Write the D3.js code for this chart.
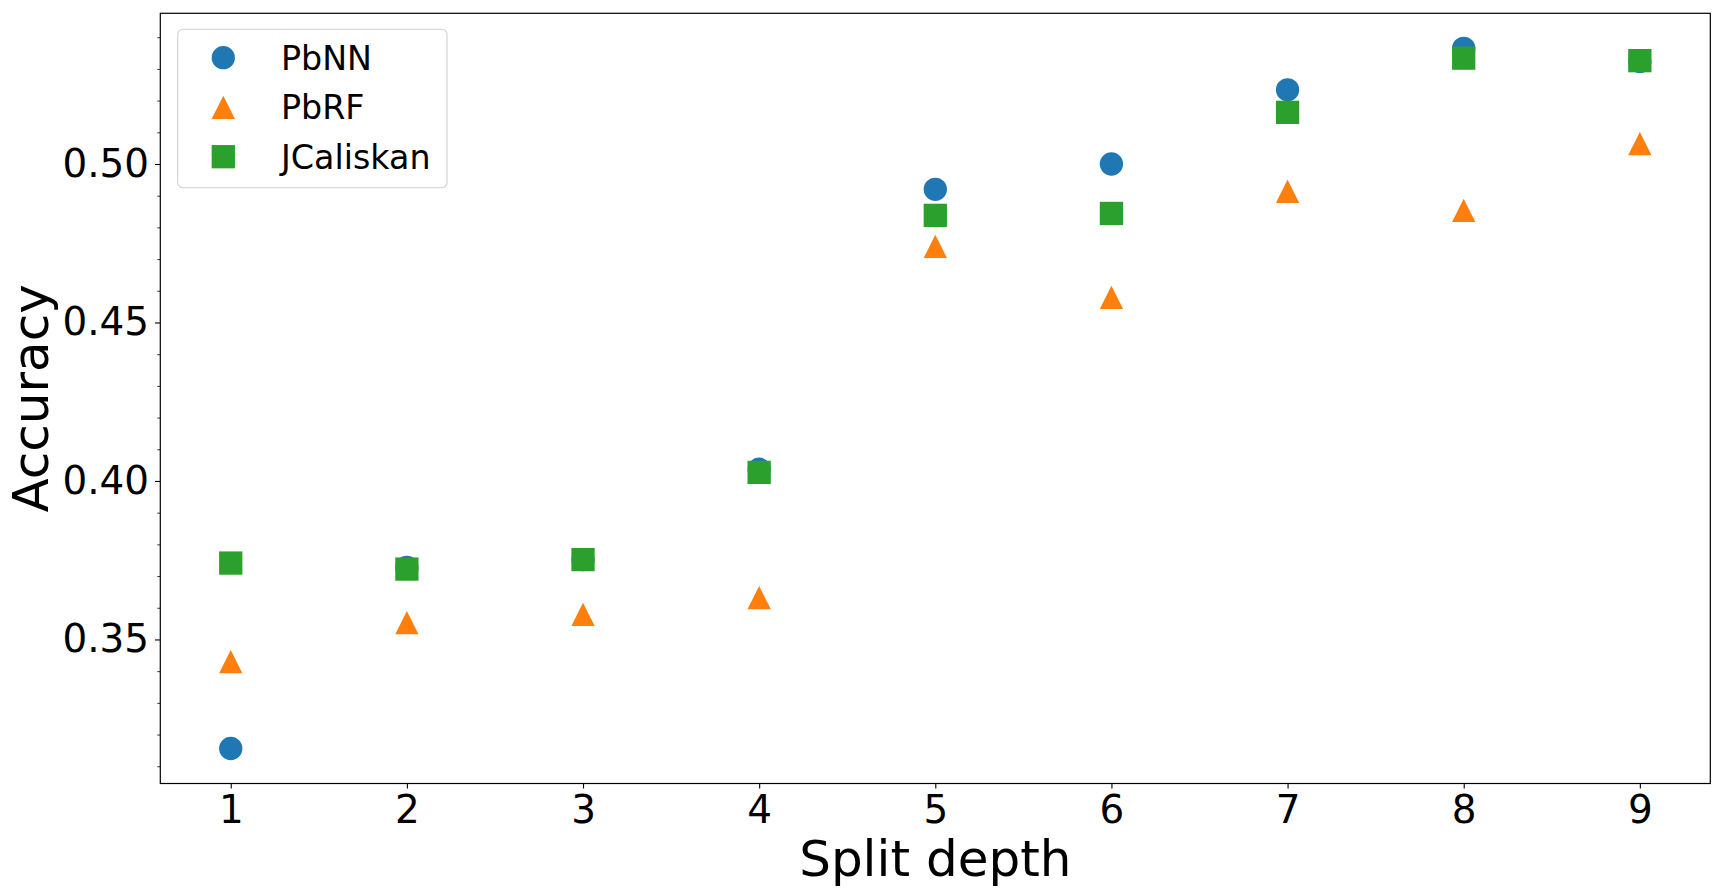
<!DOCTYPE html>
<html>
<head>
<meta charset="utf-8">
<script src="https://cdn.jsdelivr.net/npm/d3@7"></script>
<style>
  html, body { margin: 0; padding: 0; background: #fff; }
  svg { display: block; font-family: "DejaVu Sans", sans-serif; }
</style>
</head>
<body>
<svg id="chart" width="1723" height="894"></svg>
<script>
// ---- data ----
const depths = [1, 2, 3, 4, 5, 6, 7, 8, 9];
const pbnn      = [0.3156, 0.3727, 0.3752, 0.4037, 0.4920, 0.5000, 0.5234, 0.5365, 0.5323];
const pbrf      = [0.3430, 0.3553, 0.3579, 0.3632, 0.4740, 0.4579, 0.4914, 0.4854, 0.5064];
const jcaliskan = [0.3741, 0.3722, 0.3752, 0.4027, 0.4838, 0.4844, 0.5163, 0.5334, 0.5326];
const seriesNames = ["PbNN", "PbRF", "JCaliskan"];
const yMajorTicks = [0.35, 0.40, 0.45, 0.50];
const xLabel = "Split depth";
const yLabel = "Accuracy";

// ---- styling ----
const colors = ["#1f77b4", "#ff7f0e", "#2ca02c"];
const shapes = ["circle", "triangle", "square"];
const markerSize = 23.3;
const tickFont = 38.9;

const svg = d3.select("#chart");
const W = 1723, H = 894;
svg.append("rect").attr("width", W).attr("height", H).attr("fill", "#fff");

const plot = { left: 160.3, right: 1710.3, top: 13.3, bottom: 783.5 };

const allY = pbnn.concat(pbrf, jcaliskan);
const yMin = d3.min(allY), yMax = d3.max(allY);
const yPad = (yMax - yMin) * 0.05;
const xMin = d3.min(depths), xMax = d3.max(depths);
const xPad = (xMax - xMin) * 0.05;

const x = d3.scaleLinear().domain([xMin - xPad, xMax + xPad]).range([plot.left, plot.right]);
const y = d3.scaleLinear().domain([yMin - yPad, yMax + yPad]).range([plot.bottom, plot.top]);

// axes
const xAxis = d3.axisBottom(x).tickValues(depths).tickFormat(d3.format("d")).tickSize(5).tickPadding(7);
const gx = svg.append("g").attr("transform", `translate(0,${plot.bottom})`).call(xAxis);
gx.select(".domain").remove();
gx.selectAll(".tick line").attr("stroke", "#000").attr("stroke-width", 1.1);
gx.selectAll(".tick text").attr("font-size", tickFont).attr("fill", "#000")
  .attr("font-family", "DejaVu Sans, sans-serif");

const minorVals = d3.range(31, 55).map(v => v / 100).filter(v => !yMajorTicks.some(t => Math.abs(t - v) < 1e-9));
const yMinor = d3.axisLeft(y).tickValues(minorVals).tickFormat("").tickSize(3);
const gym = svg.append("g").attr("transform", `translate(${plot.left},0)`).call(yMinor);
gym.select(".domain").remove();
gym.selectAll(".tick line").attr("stroke", "#000").attr("stroke-width", 0.8);

const yAxis = d3.axisLeft(y).tickValues(yMajorTicks).tickFormat(d3.format(".2f")).tickSize(5.3).tickPadding(6);
const gy = svg.append("g").attr("transform", `translate(${plot.left},0)`).call(yAxis);
gy.select(".domain").remove();
gy.selectAll(".tick line").attr("stroke", "#000").attr("stroke-width", 1.1);
gy.selectAll(".tick text").attr("font-size", tickFont).attr("fill", "#000")
  .attr("font-family", "DejaVu Sans, sans-serif");

// frame
svg.append("rect")
  .attr("x", plot.left).attr("y", plot.top)
  .attr("width", plot.right - plot.left).attr("height", plot.bottom - plot.top)
  .attr("fill", "none").attr("stroke", "#000").attr("stroke-width", 1.2);

// symbols
const symArea = {
  circle: d3.symbol().type(d3.symbolCircle).size(Math.PI * (markerSize / 2) ** 2),
  square: d3.symbol().type(d3.symbolSquare).size(markerSize * markerSize)
};
function trianglePath(s) {
  const h = s / 2;
  return `M0,${-h}L${h},${h}L${-h},${h}Z`;
}
function shapePath(shape) {
  if (shape === "triangle") return trianglePath(markerSize);
  return symArea[shape]();
}

const seriesData = [pbnn, pbrf, jcaliskan];
seriesData.forEach((vals, i) => {
  svg.append("g").selectAll("path")
    .data(depths.map((d, j) => ({ x: d, y: vals[j] })))
    .join("path")
    .attr("d", shapePath(shapes[i]))
    .attr("transform", d => `translate(${x(d.x)},${y(d.y)})`)
    .attr("fill", colors[i]);
});

// axis labels
svg.append("text")
  .attr("x", (plot.left + plot.right) / 2).attr("y", 876)
  .attr("text-anchor", "middle").attr("font-size", 50).attr("fill", "#000")
  .text(xLabel);
svg.append("text")
  .attr("transform", `translate(48,${(plot.top + plot.bottom) / 2}) rotate(-90)`)
  .attr("text-anchor", "middle").attr("font-size", 50).attr("fill", "#000")
  .text(yLabel);

// legend
const lg = svg.append("g");
lg.append("rect")
  .attr("x", 177.7).attr("y", 29.3).attr("width", 269.3).attr("height", 158.4)
  .attr("rx", 5).attr("ry", 5)
  .attr("fill", "#fff").attr("fill-opacity", 0.8)
  .attr("stroke", "#d0d0d0").attr("stroke-width", 1.1);
const rowY = [57.7, 107.3, 156.7];
seriesNames.forEach((name, i) => {
  lg.append("path")
    .attr("d", shapePath(shapes[i]))
    .attr("transform", `translate(223.3,${rowY[i]})`)
    .attr("fill", colors[i]);
  lg.append("text")
    .attr("x", 281).attr("y", rowY[i] + 12)
    .attr("font-size", 33.3).attr("fill", "#000")
    .text(name);
});
</script>
</body>
</html>
